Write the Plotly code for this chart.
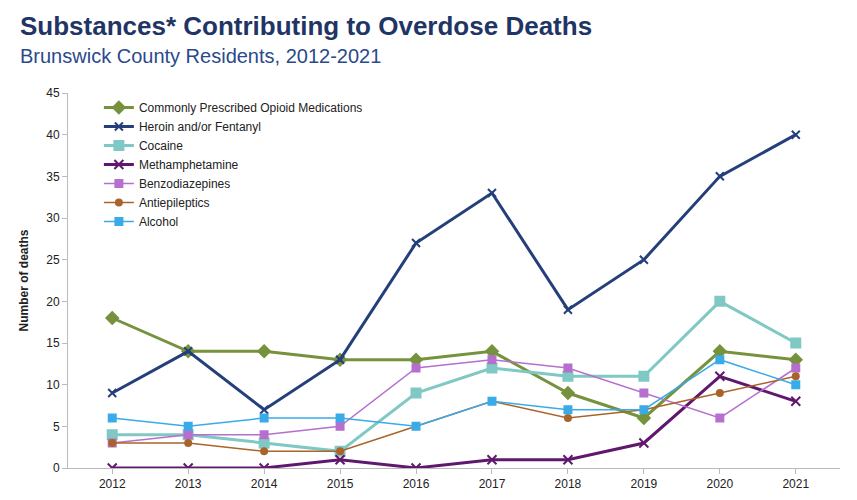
import plotly.graph_objects as go

years = [str(y) for y in range(2012, 2022)]
opioid = [18, 14, 14, 13, 13, 14, 9, 6, 14, 13]
heroin = [9, 14, 7, 13, 27, 33, 19, 25, 35, 40]
cocaine = [4, 4, 3, 2, 9, 12, 11, 11, 20, 15]
meth = [0, 0, 0, 1, 0, 1, 1, 3, 11, 8]
benzo = [3, 4, 4, 5, 12, 13, 12, 9, 6, 12]
antiepileptics = [3, 3, 2, 2, 5, 8, 6, 7, 9, 11]
alcohol = [6, 5, 6, 6, 5, 8, 7, 7, 13, 10]

series = [
    ("Commonly Prescribed Opioid Medications", opioid, "#76923c", "diamond", 9, 3),
    ("Heroin and/or Fentanyl", heroin, "#243f7a", "x-thin-open", 8, 3),
    ("Cocaine", cocaine, "#80c8c4", "square", 9, 3),
    ("Methamphetamine", meth, "#60186e", "x-thin-open", 9, 3),
    ("Benzodiazepines", benzo, "#b66fce", "square", 7, 1.5),
    ("Antiepileptics", antiepileptics, "#a9642a", "circle", 6, 1.5),
    ("Alcohol", alcohol, "#3aabe8", "square", 7, 1.5),
]

fig = go.Figure()
for name, vals, color, sym, size, width in series:
    fig.add_trace(go.Scatter(
        x=years, y=vals, name=name, mode="lines+markers",
        line=dict(color=color, width=width),
        marker=dict(symbol=sym, size=size, color=color,
                    line=dict(color=color, width=2)),
    ))

# title and subtitle as annotations so they stay inside the page
fig.add_annotation(text="<b>Substances* Contributing to Overdose Deaths</b>",
                   xref="paper", yref="paper", x=-0.065, y=1, yshift=50,
                   xanchor="left", yanchor="bottom", showarrow=False,
                   font=dict(size=26, color="#1f3566"))
fig.add_annotation(text="Brunswick County Residents, 2012-2021",
                   xref="paper", yref="paper", x=-0.065, y=1, yshift=24,
                   xanchor="left", yanchor="bottom", showarrow=False,
                   font=dict(size=20, color="#2a4a8c"))

fig.update_layout(
    width=857, height=500,
    paper_bgcolor="white", plot_bgcolor="white",
    margin=dict(l=60, r=25, t=85, b=40),
    font=dict(family="Liberation Sans, Arial", color="#222"),
    legend=dict(x=0.04, y=1.0, xanchor="left", yanchor="top",
                bgcolor="rgba(255,255,255,0)", font=dict(size=12),
                tracegroupgap=4),
    xaxis=dict(showline=True, linecolor="#bbb", ticks="outside",
               tickcolor="#bbb", showgrid=False, tickfont=dict(size=12)),
    yaxis=dict(range=[0, 45], dtick=5, showline=True, linecolor="#bbb",
               ticks="outside", tickcolor="#bbb", showgrid=False,
               zeroline=False, tickfont=dict(size=12),
               title=dict(text="<b>Number of deaths</b>", font=dict(size=12))),
)

fig.write_html("out.html")
